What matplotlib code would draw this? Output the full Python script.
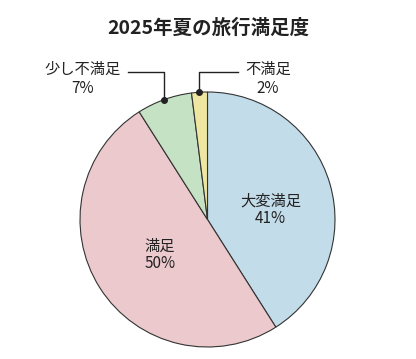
import numpy as np
import matplotlib.pyplot as plt

plt.rcParams['font.family'] = ['Noto Sans CJK JP', 'DejaVu Sans']

# data
labels = ['大変満足', '満足', '少し不満足', '不満足']
values = [41, 50, 7, 2]
colors = ['#c3dce9', '#ecc9cd', '#c6e2c4', '#efe6a2']
inside = [True, True, False, False]

fig = plt.figure(figsize=(4.16, 3.59), dpi=100)
ax = fig.add_axes([0, 0, 1, 1])

cx, cy, r = 207.5, 139.5, 127.5
wedges, _ = ax.pie(values, colors=colors, startangle=90, counterclock=False,
                   center=(cx, cy), radius=r,
                   wedgeprops=dict(edgecolor='#333333', linewidth=0.8))
ax.set_xlim(0, 416)
ax.set_ylim(0, 359)
ax.set_aspect('equal')
ax.axis('off')

fig.text(0.5, 1 - 28 / 359, '2025年夏の旅行満足度', ha='center', va='center',
         fontsize=14, fontweight='bold', color='#222222')

# label spots: inside labels as (distance, angle offset), outside as (text x, line end x)
inner = {0: (0.5, -7.6), 1: (0.465, 4.4)}
outer = {2: (83, 128), 3: (268, 238)}

for i, w in enumerate(wedges):
    mid = (w.theta1 + w.theta2) / 2
    txt = f'{labels[i]}\n{values[i]}%'
    if inside[i]:
        d, off = inner[i]
        a = np.deg2rad(mid + off)
        ax.text(cx + d * r * np.cos(a), cy + d * r * np.sin(a), txt,
                ha='center', va='center', fontsize=11, color='#222222',
                linespacing=1.05)
    else:
        a = np.deg2rad(mid)
        px, py = cx + r * np.cos(a), cy + r * np.sin(a)
        tx, lx = outer[i]
        ly = 359 - 72
        ax.plot([lx, px, px], [ly, ly, py], color='#222222', lw=1.0)
        ax.plot(px, py, 'o', color='#222222', ms=4)
        ax.text(tx, 359 - 79, txt, ha='center', va='center', fontsize=11,
                color='#222222', linespacing=1.2)

fig.savefig('out.png', dpi=100)
